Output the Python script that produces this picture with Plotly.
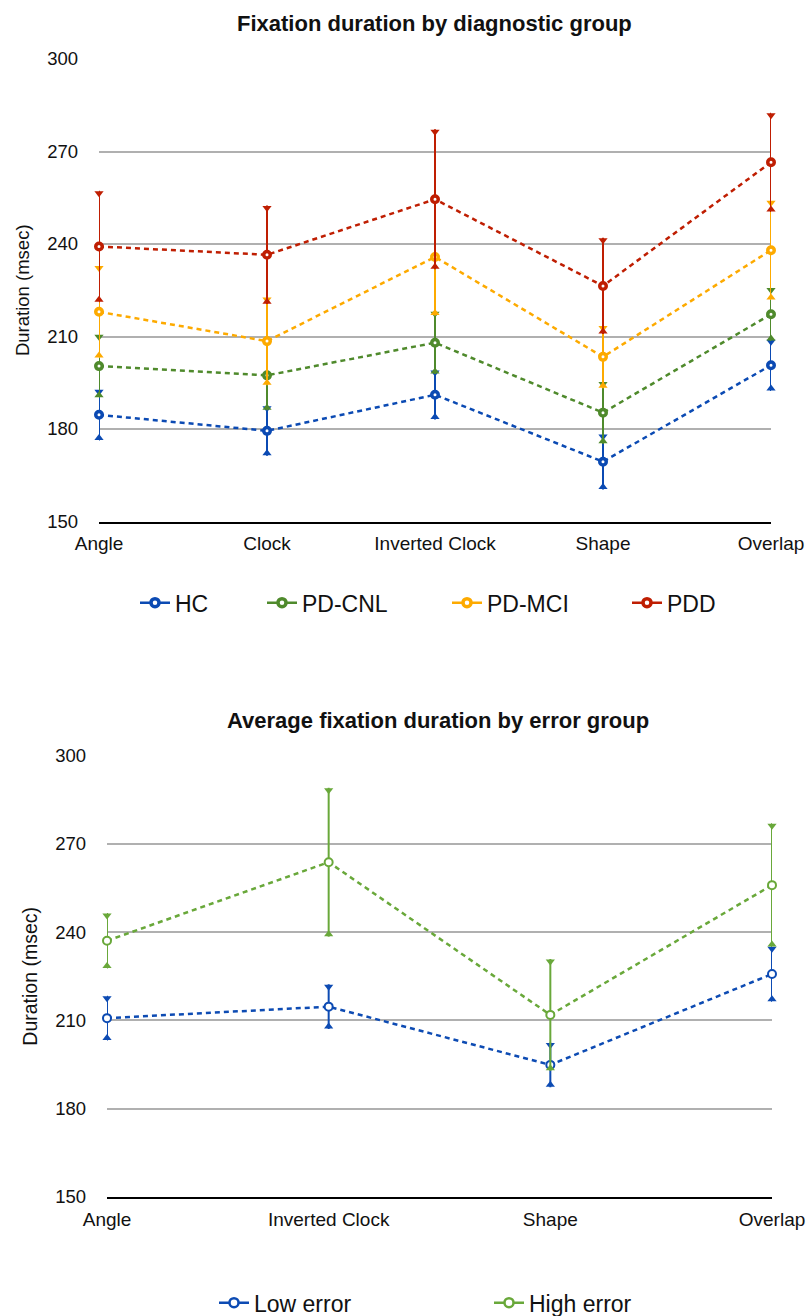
import plotly.graph_objects as go

# ---------------- data ----------------
categories_top = ["Angle", "Clock", "Inverted Clock", "Shape", "Overlap"]
hc_mean = [184.6, 179.4, 191.1, 169.4, 200.7]
hc_err = [8.3, 8.1, 8.0, 9.0, 8.4]
pdcnl_mean = [200.4, 197.4, 208.0, 185.3, 217.2]
pdcnl_err = [10.3, 11.3, 10.2, 10.1, 8.7]
pdmci_mean = [218.0, 208.5, 235.8, 203.4, 238.0]
pdmci_err = [15.0, 14.3, 19.0, 10.2, 16.2]
pdd_mean = [239.2, 236.5, 254.5, 226.4, 266.5]
pdd_err = [18.1, 16.0, 22.7, 15.6, 16.1]

categories_bottom = ["Angle", "Inverted Clock", "Shape", "Overlap"]
low_mean = [210.8, 214.7, 194.9, 225.8]
low_err = [7.6, 7.6, 7.6, 9.4]
high_mean = [237.1, 263.8, 211.9, 256.0]
high_err = [9.4, 25.3, 19.0, 21.0]

y_ticks = [150, 180, 210, 240, 270, 300]

# ---------------- style ----------------
W, H = 808, 1316
FONT = "Liberation Sans, Arial, Helvetica, sans-serif"
GRID = "#b0b0b0"

top_dom_px = dict(x0=99, x1=771, y0=59, y1=521.5)
bot_dom_px = dict(x0=107, x1=772, y0=755.7, y1=1197)


def xdom(d):
    return [d["x0"] / W, d["x1"] / W]


def ydom(d):
    return [1 - d["y1"] / H, 1 - d["y0"] / H]


fig = go.Figure()


def add_series(name, cats, mean, err, color, xa, ya, dom, legend_id,
               msize, mline, legend_msize, legend_mline):
    px_per_unit = (dom["y1"] - dom["y0"]) / (y_ticks[-1] - y_ticks[0])
    off = 2.5 / px_per_unit
    fig.add_trace(go.Scatter(
        x=cats, y=mean, mode="lines+markers", name=name, showlegend=False,
        xaxis=xa, yaxis=ya, cliponaxis=False,
        line=dict(color=color, width=2.5, dash="5px,4px"),
        marker=dict(symbol="circle", size=msize, color="white",
                    line=dict(color=color, width=mline)),
        error_y=dict(type="data", array=err, visible=True, color=color,
                     thickness=2, width=0),
    ))
    upper = [m + e - off for m, e in zip(mean, err)]
    lower = [m - e + off for m, e in zip(mean, err)]
    fig.add_trace(go.Scatter(
        x=cats, y=upper, mode="markers", showlegend=False, hoverinfo="skip",
        xaxis=xa, yaxis=ya, cliponaxis=False,
        marker=dict(symbol="triangle-down", size=8, color=color, line=dict(width=0)),
    ))
    fig.add_trace(go.Scatter(
        x=cats, y=lower, mode="markers", showlegend=False, hoverinfo="skip",
        xaxis=xa, yaxis=ya, cliponaxis=False,
        marker=dict(symbol="triangle-up", size=8, color=color, line=dict(width=0)),
    ))
    fig.add_trace(go.Scatter(
        x=[None], y=[None], mode="lines+markers", name=name, showlegend=True,
        legend=legend_id, xaxis=xa, yaxis=ya,
        line=dict(color=color, width=2.5),
        marker=dict(symbol="circle", size=legend_msize, color="white",
                    line=dict(color=color, width=legend_mline)),
    ))


top_series = [
    ("HC", hc_mean, hc_err, "#0b4ab3", "legend", 150),
    ("PD-CNL", pdcnl_mean, pdcnl_err, "#4f8a2c", "legend2", 277),
    ("PD-MCI", pdmci_mean, pdmci_err, "#fdaa00", "legend3", 462),
    ("PDD", pdd_mean, pdd_err, "#bf1e02", "legend4", 642),
]
bottom_series = [
    ("Low error", low_mean, low_err, "#0d4bb3", "legend5", 229),
    ("High error", high_mean, high_err, "#69a83a", "legend6", 504),
]

for name, m, e, c, lg, _ in top_series:
    add_series(name, categories_top, m, e, c, "x", "y", top_dom_px, lg, 6.5, 3.5, 8, 3.5)
for name, m, e, c, lg, _ in bottom_series:
    add_series(name, categories_bottom, m, e, c, "x2", "y2", bot_dom_px, lg, 8, 2, 9, 2.5)

legend_cfg = {}
for group, ypx in ((top_series, 602.7), (bottom_series, 1302.7)):
    for name, m, e, c, lg, mx in group:
        legend_cfg[lg] = dict(
            x=(mx - 15) / W, y=1 - ypx / H, xanchor="left", yanchor="middle",
            orientation="h", bgcolor="rgba(0,0,0,0)", borderwidth=0, itemwidth=30,
            font=dict(family=FONT, size=23, color="#111111"), itemclick=False,
        )

xaxis_common = dict(
    type="category", showgrid=False, zeroline=False, showline=True,
    linecolor="#000000", linewidth=2, ticks="", ticklabelstandoff=4,
    tickfont=dict(family=FONT, size=19, color="#111111"), fixedrange=True,
    automargin=False,
)
yaxis_common = dict(
    range=[150, 300], tickvals=y_ticks, showgrid=True, gridcolor=GRID,
    gridwidth=1.5, zeroline=False, showline=False, ticks="",
    ticklabelstandoff=20, automargin=False,
    tickfont=dict(family=FONT, size=18.5, color="#111111"), fixedrange=True,
)

fig.update_layout(
    width=W, height=H, margin=dict(l=0, r=0, t=0, b=0, autoexpand=False),
    paper_bgcolor="white", plot_bgcolor="white",
    font=dict(family=FONT, color="#111111"),
    xaxis=dict(xaxis_common, domain=xdom(top_dom_px), anchor="y",
               categoryorder="array", categoryarray=categories_top,
               range=[0, len(categories_top) - 1]),
    yaxis=dict(yaxis_common, domain=ydom(top_dom_px), anchor="x",
               title=dict(text="Duration (msec)", standoff=12,
                          font=dict(family=FONT, size=18.5, color="#111111"))),
    xaxis2=dict(xaxis_common, domain=xdom(bot_dom_px), anchor="y2",
                categoryorder="array", categoryarray=categories_bottom,
                range=[0, len(categories_bottom) - 1]),
    yaxis2=dict(yaxis_common, domain=ydom(bot_dom_px), anchor="x2",
                title=dict(text="Duration (msec)", standoff=12,
                           font=dict(family=FONT, size=19.5, color="#111111"))),
    annotations=[
        dict(text="<b>Fixation duration by diagnostic group</b>", x=434 / W,
             y=1 - 23 / H, xref="paper", yref="paper", xanchor="center",
             yanchor="middle", showarrow=False,
             font=dict(family=FONT, size=22, color="#111111")),
        dict(text="<b>Average fixation duration by error group</b>", x=438 / W,
             y=1 - 720 / H, xref="paper", yref="paper", xanchor="center",
             yanchor="middle", showarrow=False,
             font=dict(family=FONT, size=22, color="#111111")),
    ],
    **legend_cfg,
)

fig.write_html(
    "out.html",
    config={"displayModeBar": False},
    post_script="document.body.style.margin='0';document.body.style.overflow='hidden';",
)
